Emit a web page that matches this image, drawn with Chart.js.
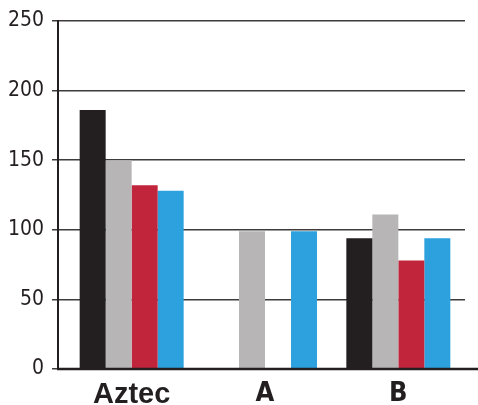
<!DOCTYPE html>
<html>
<head>
<meta charset="utf-8">
<script src="https://cdn.jsdelivr.net/npm/chart.js@4/dist/chart.umd.min.js"></script>
<style>
  html, body { margin: 0; padding: 0; background: #fff; }
  #wrap { width: 478px; height: 405px; }
</style>
</head>
<body>
<div id="wrap"><canvas id="chart" width="478" height="405"></canvas></div>
<script>
// values
const categories = ["Aztec", "A", "B"];
const seriesBlack = [186, null, 94];
const seriesGray = [150, 99, 111];
const seriesRed = [132, null, 78];
const seriesBlue = [128, 99, 94];
const yTicks = [0, 50, 100, 150, 200, 250];

const COLORS = {
  black: "#231f20",
  gray: "#b8b5b6",
  red: "#c1253b",
  blue: "#2ca1dd",
  grid: "#3d3b3c",
  text: "#231f20",
};

const NARROW = "'DejaVu Sans Condensed', 'Liberation Sans', sans-serif";

// y axis line sits a few px left of the first bar slot, x axis line runs to the edge
const axisLines = {
  id: "axisLines",
  afterDraw(chart) {
    const { ctx, chartArea, scales } = chart;
    const y0 = scales.y.getPixelForValue(0);
    const yTop = scales.y.getPixelForValue(250);
    const xAxis = chartArea.left - 7;
    ctx.save();
    ctx.strokeStyle = COLORS.text;
    ctx.lineWidth = 2;
    ctx.beginPath();
    ctx.moveTo(xAxis, yTop - 1);
    ctx.lineTo(xAxis, y0 + 1);
    ctx.stroke();
    ctx.lineWidth = 2.5;
    ctx.beginPath();
    ctx.moveTo(xAxis - 1, y0);
    ctx.lineTo(chart.width, y0);
    ctx.stroke();
    ctx.restore();
  },
};

function ds(label, data, color) {
  return { label, data, backgroundColor: color, borderWidth: 0 };
}

new Chart(document.getElementById("chart"), {
  type: "bar",
  data: {
    labels: categories,
    datasets: [
      ds("1", seriesBlack, COLORS.black),
      ds("2", seriesGray, COLORS.gray),
      ds("3", seriesRed, COLORS.red),
      ds("4", seriesBlue, COLORS.blue),
    ],
  },
  options: {
    responsive: false,
    animation: false,
    layout: { padding: { top: 21, right: 13, left: 0, bottom: 0 } },
    datasets: { bar: { barPercentage: 1, categoryPercentage: 0.78 } },
    plugins: { legend: { display: false }, tooltip: { enabled: false } },
    scales: {
      x: {
        grid: { display: false },
        border: { display: false },
        ticks: {
          color: COLORS.text,
          padding: 1,
          maxRotation: 0,
          font: (c) =>
            c.index === 0
              ? { family: "'Liberation Sans', Arial, sans-serif", size: 29, weight: "bold" }
              : { family: NARROW, size: 27, weight: "bold" },
        },
        afterFit: (s) => { s.height = 36; },
      },
      y: {
        min: 0,
        max: 250,
        afterBuildTicks: (s) => { s.ticks = yTicks.map((v) => ({ value: v })); },
        grid: { color: COLORS.grid, lineWidth: 1.5, tickLength: 13, drawTicks: true },
        border: { display: false },
        ticks: {
          color: COLORS.text,
          padding: 8,
          font: { family: NARROW, size: 21 },
        },
        afterFit: (s) => { s.width = 65; },
      },
    },
  },
  plugins: [axisLines],
});
</script>
</body>
</html>
